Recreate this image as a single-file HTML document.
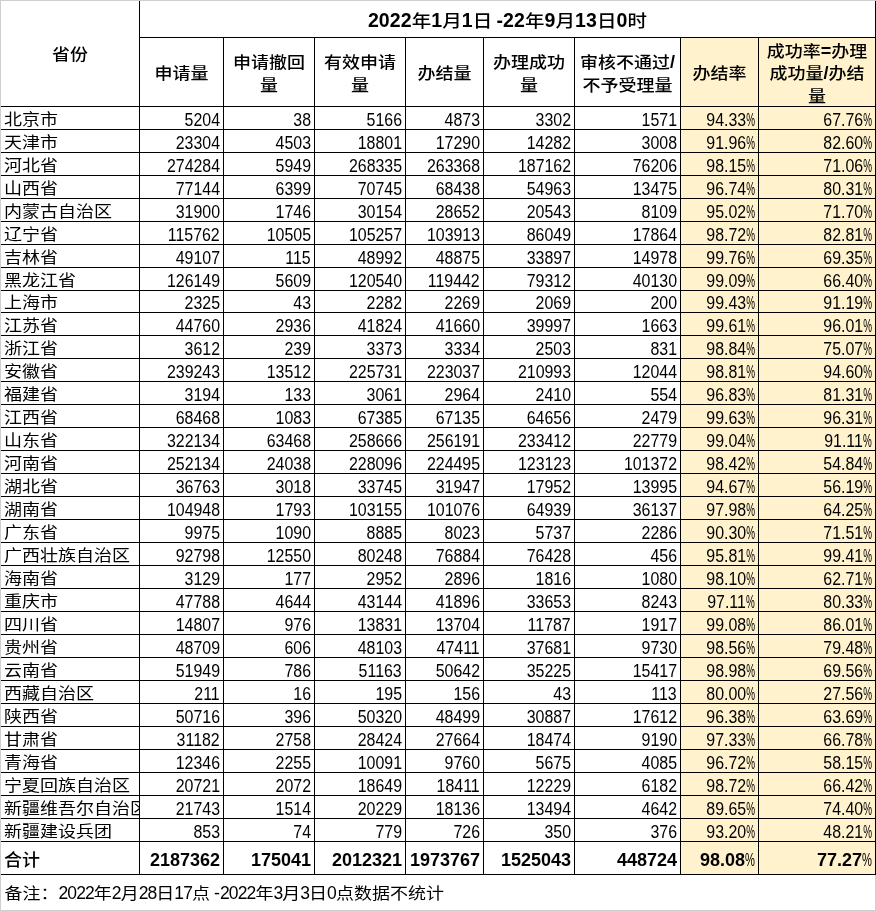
<!DOCTYPE html><html><head><meta charset="utf-8"><style>
html,body{margin:0;padding:0;}
body{width:876px;height:911px;position:relative;overflow:hidden;background:#fff;font-family:"Liberation Sans","Noto Sans CJK SC",sans-serif;}
.h,.v,.f,.g{position:absolute;}
.h{height:1px;background:#000;}
.v{width:1px;background:#000;}
.f{background:#FFF2CC;}
.g{background:#cfcfcf;}
.c{position:absolute;white-space:nowrap;overflow:hidden;color:#000;line-height:20px;}
.n{font-size:18px;letter-spacing:0px;text-align:right;}
.s{display:inline-block;transform:scaleX(0.885);transform-origin:100% 50%;}
.pc{display:inline-block;transform:scaleX(0.62);transform-origin:0 50%;margin-right:-6.1px;letter-spacing:0;font-weight:normal;}
.t{font-size:18px;text-align:left;}
.k{display:inline-block;transform:scaleY(0.86);transform-origin:50% 70%;}
.kb{display:inline-block;font-weight:500;transform:scaleY(0.88);transform-origin:50% 70%;}
.kt{transform:scaleY(0.95);}
.b{font-weight:bold;font-size:18px;letter-spacing:0px;text-align:right;}
.hd{font-weight:bold;font-size:18px;text-align:center;line-height:22.5px;}
.ti{font-weight:bold;font-size:19.5px;letter-spacing:0.1px;text-align:center;}
.nt{font-size:18px;text-align:left;}
.d{font-size:17.5px;letter-spacing:-0.9px;}
.dash{margin-left:4px;}
</style></head><body>
<div class="g" style="left:0;top:0;width:876px;height:1px"></div>
<div class="g" style="left:0;top:0;width:1px;height:911px"></div>
<div class="g" style="left:0;top:910px;width:876px;height:1px"></div>
<div class="g" style="left:875px;top:875px;width:1px;height:36px"></div>
<div class="f" style="left:681px;top:38px;width:77px;height:836px"></div>
<div class="f" style="left:759px;top:38px;width:116px;height:836px"></div>
<div class="h" style="left:139px;top:37px;width:737px"></div>
<div class="h" style="left:1px;top:106px;width:875px"></div>
<div class="h" style="left:1px;top:129px;width:875px"></div>
<div class="h" style="left:1px;top:152px;width:875px"></div>
<div class="h" style="left:1px;top:175px;width:875px"></div>
<div class="h" style="left:1px;top:198px;width:875px"></div>
<div class="h" style="left:1px;top:221px;width:875px"></div>
<div class="h" style="left:1px;top:244px;width:875px"></div>
<div class="h" style="left:1px;top:267px;width:875px"></div>
<div class="h" style="left:1px;top:290px;width:875px"></div>
<div class="h" style="left:1px;top:312px;width:875px"></div>
<div class="h" style="left:1px;top:335px;width:875px"></div>
<div class="h" style="left:1px;top:358px;width:875px"></div>
<div class="h" style="left:1px;top:381px;width:875px"></div>
<div class="h" style="left:1px;top:404px;width:875px"></div>
<div class="h" style="left:1px;top:427px;width:875px"></div>
<div class="h" style="left:1px;top:450px;width:875px"></div>
<div class="h" style="left:1px;top:473px;width:875px"></div>
<div class="h" style="left:1px;top:496px;width:875px"></div>
<div class="h" style="left:1px;top:519px;width:875px"></div>
<div class="h" style="left:1px;top:542px;width:875px"></div>
<div class="h" style="left:1px;top:565px;width:875px"></div>
<div class="h" style="left:1px;top:588px;width:875px"></div>
<div class="h" style="left:1px;top:611px;width:875px"></div>
<div class="h" style="left:1px;top:634px;width:875px"></div>
<div class="h" style="left:1px;top:657px;width:875px"></div>
<div class="h" style="left:1px;top:680px;width:875px"></div>
<div class="h" style="left:1px;top:703px;width:875px"></div>
<div class="h" style="left:1px;top:726px;width:875px"></div>
<div class="h" style="left:1px;top:749px;width:875px"></div>
<div class="h" style="left:1px;top:772px;width:875px"></div>
<div class="h" style="left:1px;top:795px;width:875px"></div>
<div class="h" style="left:1px;top:818px;width:875px"></div>
<div class="h" style="left:1px;top:841px;width:875px"></div>
<div class="h" style="left:1px;top:874px;width:875px"></div>
<div class="v" style="left:139px;top:1px;height:873px"></div>
<div class="v" style="left:223px;top:37px;height:837px"></div>
<div class="v" style="left:314px;top:37px;height:837px"></div>
<div class="v" style="left:405px;top:37px;height:837px"></div>
<div class="v" style="left:483px;top:37px;height:837px"></div>
<div class="v" style="left:574px;top:37px;height:837px"></div>
<div class="v" style="left:680px;top:37px;height:837px"></div>
<div class="v" style="left:758px;top:37px;height:837px"></div>
<div class="v" style="left:875px;top:1px;height:873px"></div>
<div class="c ti" style="left:140px;width:735px;top:10px;">2022<span class="kb">年</span>1<span class="kb">月</span>1<span class="kb">日</span><span class="dash">-</span>22<span class="kb">年</span>9<span class="kb">月</span>13<span class="kb">日</span>0<span class="kb">时</span></div>
<div class="c hd" style="left:1px;width:138px;top:43px;"><span class="kb">省份</span></div>
<div class="c hd" style="left:140px;width:83px;top:62.25px;"><span class="kb">申请量</span></div>
<div class="c hd" style="left:224px;width:90px;top:51.0px;"><span class="kb">申请撤回</span><br><span class="kb">量</span></div>
<div class="c hd" style="left:315px;width:90px;top:51.0px;"><span class="kb">有效申请</span><br><span class="kb">量</span></div>
<div class="c hd" style="left:406px;width:77px;top:62.25px;"><span class="kb">办结量</span></div>
<div class="c hd" style="left:484px;width:90px;top:51.0px;"><span class="kb">办理成功</span><br><span class="kb">量</span></div>
<div class="c hd" style="left:575px;width:105px;top:51.0px;"><span class="kb">审核不通过</span>/<br><span class="kb">不予受理量</span></div>
<div class="c hd" style="left:681px;width:77px;top:62.25px;"><span class="kb">办结率</span></div>
<div class="c hd" style="left:759px;width:116px;top:39.75px;"><span class="kb">成功率</span>=<span class="kb">办理</span><br><span class="kb">成功量</span>/<span class="kb">办结</span><br><span class="kb">量</span></div>
<div class="c t" style="left:4px;width:135px;top:109px;"><span class="k">北京市</span></div>
<div class="c n" style="left:140px;width:80px;top:110px;"><span class="s">5204</span></div>
<div class="c n" style="left:224px;width:87px;top:110px;"><span class="s">38</span></div>
<div class="c n" style="left:315px;width:87px;top:110px;"><span class="s">5166</span></div>
<div class="c n" style="left:406px;width:74px;top:110px;"><span class="s">4873</span></div>
<div class="c n" style="left:484px;width:87px;top:110px;"><span class="s">3302</span></div>
<div class="c n" style="left:575px;width:102px;top:110px;"><span class="s">1571</span></div>
<div class="c n" style="left:681px;width:74px;top:110px;"><span class="s">94.33<span class="pc">%</span></span></div>
<div class="c n" style="left:759px;width:113px;top:110px;"><span class="s">67.76<span class="pc">%</span></span></div>
<div class="c t" style="left:4px;width:135px;top:132px;"><span class="k">天津市</span></div>
<div class="c n" style="left:140px;width:80px;top:133px;"><span class="s">23304</span></div>
<div class="c n" style="left:224px;width:87px;top:133px;"><span class="s">4503</span></div>
<div class="c n" style="left:315px;width:87px;top:133px;"><span class="s">18801</span></div>
<div class="c n" style="left:406px;width:74px;top:133px;"><span class="s">17290</span></div>
<div class="c n" style="left:484px;width:87px;top:133px;"><span class="s">14282</span></div>
<div class="c n" style="left:575px;width:102px;top:133px;"><span class="s">3008</span></div>
<div class="c n" style="left:681px;width:74px;top:133px;"><span class="s">91.96<span class="pc">%</span></span></div>
<div class="c n" style="left:759px;width:113px;top:133px;"><span class="s">82.60<span class="pc">%</span></span></div>
<div class="c t" style="left:4px;width:135px;top:155px;"><span class="k">河北省</span></div>
<div class="c n" style="left:140px;width:80px;top:156px;"><span class="s">274284</span></div>
<div class="c n" style="left:224px;width:87px;top:156px;"><span class="s">5949</span></div>
<div class="c n" style="left:315px;width:87px;top:156px;"><span class="s">268335</span></div>
<div class="c n" style="left:406px;width:74px;top:156px;"><span class="s">263368</span></div>
<div class="c n" style="left:484px;width:87px;top:156px;"><span class="s">187162</span></div>
<div class="c n" style="left:575px;width:102px;top:156px;"><span class="s">76206</span></div>
<div class="c n" style="left:681px;width:74px;top:156px;"><span class="s">98.15<span class="pc">%</span></span></div>
<div class="c n" style="left:759px;width:113px;top:156px;"><span class="s">71.06<span class="pc">%</span></span></div>
<div class="c t" style="left:4px;width:135px;top:178px;"><span class="k">山西省</span></div>
<div class="c n" style="left:140px;width:80px;top:179px;"><span class="s">77144</span></div>
<div class="c n" style="left:224px;width:87px;top:179px;"><span class="s">6399</span></div>
<div class="c n" style="left:315px;width:87px;top:179px;"><span class="s">70745</span></div>
<div class="c n" style="left:406px;width:74px;top:179px;"><span class="s">68438</span></div>
<div class="c n" style="left:484px;width:87px;top:179px;"><span class="s">54963</span></div>
<div class="c n" style="left:575px;width:102px;top:179px;"><span class="s">13475</span></div>
<div class="c n" style="left:681px;width:74px;top:179px;"><span class="s">96.74<span class="pc">%</span></span></div>
<div class="c n" style="left:759px;width:113px;top:179px;"><span class="s">80.31<span class="pc">%</span></span></div>
<div class="c t" style="left:4px;width:135px;top:201px;"><span class="k">内蒙古自治区</span></div>
<div class="c n" style="left:140px;width:80px;top:202px;"><span class="s">31900</span></div>
<div class="c n" style="left:224px;width:87px;top:202px;"><span class="s">1746</span></div>
<div class="c n" style="left:315px;width:87px;top:202px;"><span class="s">30154</span></div>
<div class="c n" style="left:406px;width:74px;top:202px;"><span class="s">28652</span></div>
<div class="c n" style="left:484px;width:87px;top:202px;"><span class="s">20543</span></div>
<div class="c n" style="left:575px;width:102px;top:202px;"><span class="s">8109</span></div>
<div class="c n" style="left:681px;width:74px;top:202px;"><span class="s">95.02<span class="pc">%</span></span></div>
<div class="c n" style="left:759px;width:113px;top:202px;"><span class="s">71.70<span class="pc">%</span></span></div>
<div class="c t" style="left:4px;width:135px;top:224px;"><span class="k">辽宁省</span></div>
<div class="c n" style="left:140px;width:80px;top:225px;"><span class="s">115762</span></div>
<div class="c n" style="left:224px;width:87px;top:225px;"><span class="s">10505</span></div>
<div class="c n" style="left:315px;width:87px;top:225px;"><span class="s">105257</span></div>
<div class="c n" style="left:406px;width:74px;top:225px;"><span class="s">103913</span></div>
<div class="c n" style="left:484px;width:87px;top:225px;"><span class="s">86049</span></div>
<div class="c n" style="left:575px;width:102px;top:225px;"><span class="s">17864</span></div>
<div class="c n" style="left:681px;width:74px;top:225px;"><span class="s">98.72<span class="pc">%</span></span></div>
<div class="c n" style="left:759px;width:113px;top:225px;"><span class="s">82.81<span class="pc">%</span></span></div>
<div class="c t" style="left:4px;width:135px;top:247px;"><span class="k">吉林省</span></div>
<div class="c n" style="left:140px;width:80px;top:248px;"><span class="s">49107</span></div>
<div class="c n" style="left:224px;width:87px;top:248px;"><span class="s">115</span></div>
<div class="c n" style="left:315px;width:87px;top:248px;"><span class="s">48992</span></div>
<div class="c n" style="left:406px;width:74px;top:248px;"><span class="s">48875</span></div>
<div class="c n" style="left:484px;width:87px;top:248px;"><span class="s">33897</span></div>
<div class="c n" style="left:575px;width:102px;top:248px;"><span class="s">14978</span></div>
<div class="c n" style="left:681px;width:74px;top:248px;"><span class="s">99.76<span class="pc">%</span></span></div>
<div class="c n" style="left:759px;width:113px;top:248px;"><span class="s">69.35<span class="pc">%</span></span></div>
<div class="c t" style="left:4px;width:135px;top:270px;"><span class="k">黑龙江省</span></div>
<div class="c n" style="left:140px;width:80px;top:271px;"><span class="s">126149</span></div>
<div class="c n" style="left:224px;width:87px;top:271px;"><span class="s">5609</span></div>
<div class="c n" style="left:315px;width:87px;top:271px;"><span class="s">120540</span></div>
<div class="c n" style="left:406px;width:74px;top:271px;"><span class="s">119442</span></div>
<div class="c n" style="left:484px;width:87px;top:271px;"><span class="s">79312</span></div>
<div class="c n" style="left:575px;width:102px;top:271px;"><span class="s">40130</span></div>
<div class="c n" style="left:681px;width:74px;top:271px;"><span class="s">99.09<span class="pc">%</span></span></div>
<div class="c n" style="left:759px;width:113px;top:271px;"><span class="s">66.40<span class="pc">%</span></span></div>
<div class="c t" style="left:4px;width:135px;top:292px;"><span class="k">上海市</span></div>
<div class="c n" style="left:140px;width:80px;top:293px;"><span class="s">2325</span></div>
<div class="c n" style="left:224px;width:87px;top:293px;"><span class="s">43</span></div>
<div class="c n" style="left:315px;width:87px;top:293px;"><span class="s">2282</span></div>
<div class="c n" style="left:406px;width:74px;top:293px;"><span class="s">2269</span></div>
<div class="c n" style="left:484px;width:87px;top:293px;"><span class="s">2069</span></div>
<div class="c n" style="left:575px;width:102px;top:293px;"><span class="s">200</span></div>
<div class="c n" style="left:681px;width:74px;top:293px;"><span class="s">99.43<span class="pc">%</span></span></div>
<div class="c n" style="left:759px;width:113px;top:293px;"><span class="s">91.19<span class="pc">%</span></span></div>
<div class="c t" style="left:4px;width:135px;top:315px;"><span class="k">江苏省</span></div>
<div class="c n" style="left:140px;width:80px;top:316px;"><span class="s">44760</span></div>
<div class="c n" style="left:224px;width:87px;top:316px;"><span class="s">2936</span></div>
<div class="c n" style="left:315px;width:87px;top:316px;"><span class="s">41824</span></div>
<div class="c n" style="left:406px;width:74px;top:316px;"><span class="s">41660</span></div>
<div class="c n" style="left:484px;width:87px;top:316px;"><span class="s">39997</span></div>
<div class="c n" style="left:575px;width:102px;top:316px;"><span class="s">1663</span></div>
<div class="c n" style="left:681px;width:74px;top:316px;"><span class="s">99.61<span class="pc">%</span></span></div>
<div class="c n" style="left:759px;width:113px;top:316px;"><span class="s">96.01<span class="pc">%</span></span></div>
<div class="c t" style="left:4px;width:135px;top:338px;"><span class="k">浙江省</span></div>
<div class="c n" style="left:140px;width:80px;top:339px;"><span class="s">3612</span></div>
<div class="c n" style="left:224px;width:87px;top:339px;"><span class="s">239</span></div>
<div class="c n" style="left:315px;width:87px;top:339px;"><span class="s">3373</span></div>
<div class="c n" style="left:406px;width:74px;top:339px;"><span class="s">3334</span></div>
<div class="c n" style="left:484px;width:87px;top:339px;"><span class="s">2503</span></div>
<div class="c n" style="left:575px;width:102px;top:339px;"><span class="s">831</span></div>
<div class="c n" style="left:681px;width:74px;top:339px;"><span class="s">98.84<span class="pc">%</span></span></div>
<div class="c n" style="left:759px;width:113px;top:339px;"><span class="s">75.07<span class="pc">%</span></span></div>
<div class="c t" style="left:4px;width:135px;top:361px;"><span class="k">安徽省</span></div>
<div class="c n" style="left:140px;width:80px;top:362px;"><span class="s">239243</span></div>
<div class="c n" style="left:224px;width:87px;top:362px;"><span class="s">13512</span></div>
<div class="c n" style="left:315px;width:87px;top:362px;"><span class="s">225731</span></div>
<div class="c n" style="left:406px;width:74px;top:362px;"><span class="s">223037</span></div>
<div class="c n" style="left:484px;width:87px;top:362px;"><span class="s">210993</span></div>
<div class="c n" style="left:575px;width:102px;top:362px;"><span class="s">12044</span></div>
<div class="c n" style="left:681px;width:74px;top:362px;"><span class="s">98.81<span class="pc">%</span></span></div>
<div class="c n" style="left:759px;width:113px;top:362px;"><span class="s">94.60<span class="pc">%</span></span></div>
<div class="c t" style="left:4px;width:135px;top:384px;"><span class="k">福建省</span></div>
<div class="c n" style="left:140px;width:80px;top:385px;"><span class="s">3194</span></div>
<div class="c n" style="left:224px;width:87px;top:385px;"><span class="s">133</span></div>
<div class="c n" style="left:315px;width:87px;top:385px;"><span class="s">3061</span></div>
<div class="c n" style="left:406px;width:74px;top:385px;"><span class="s">2964</span></div>
<div class="c n" style="left:484px;width:87px;top:385px;"><span class="s">2410</span></div>
<div class="c n" style="left:575px;width:102px;top:385px;"><span class="s">554</span></div>
<div class="c n" style="left:681px;width:74px;top:385px;"><span class="s">96.83<span class="pc">%</span></span></div>
<div class="c n" style="left:759px;width:113px;top:385px;"><span class="s">81.31<span class="pc">%</span></span></div>
<div class="c t" style="left:4px;width:135px;top:407px;"><span class="k">江西省</span></div>
<div class="c n" style="left:140px;width:80px;top:408px;"><span class="s">68468</span></div>
<div class="c n" style="left:224px;width:87px;top:408px;"><span class="s">1083</span></div>
<div class="c n" style="left:315px;width:87px;top:408px;"><span class="s">67385</span></div>
<div class="c n" style="left:406px;width:74px;top:408px;"><span class="s">67135</span></div>
<div class="c n" style="left:484px;width:87px;top:408px;"><span class="s">64656</span></div>
<div class="c n" style="left:575px;width:102px;top:408px;"><span class="s">2479</span></div>
<div class="c n" style="left:681px;width:74px;top:408px;"><span class="s">99.63<span class="pc">%</span></span></div>
<div class="c n" style="left:759px;width:113px;top:408px;"><span class="s">96.31<span class="pc">%</span></span></div>
<div class="c t" style="left:4px;width:135px;top:430px;"><span class="k">山东省</span></div>
<div class="c n" style="left:140px;width:80px;top:431px;"><span class="s">322134</span></div>
<div class="c n" style="left:224px;width:87px;top:431px;"><span class="s">63468</span></div>
<div class="c n" style="left:315px;width:87px;top:431px;"><span class="s">258666</span></div>
<div class="c n" style="left:406px;width:74px;top:431px;"><span class="s">256191</span></div>
<div class="c n" style="left:484px;width:87px;top:431px;"><span class="s">233412</span></div>
<div class="c n" style="left:575px;width:102px;top:431px;"><span class="s">22779</span></div>
<div class="c n" style="left:681px;width:74px;top:431px;"><span class="s">99.04<span class="pc">%</span></span></div>
<div class="c n" style="left:759px;width:113px;top:431px;"><span class="s">91.11<span class="pc">%</span></span></div>
<div class="c t" style="left:4px;width:135px;top:453px;"><span class="k">河南省</span></div>
<div class="c n" style="left:140px;width:80px;top:454px;"><span class="s">252134</span></div>
<div class="c n" style="left:224px;width:87px;top:454px;"><span class="s">24038</span></div>
<div class="c n" style="left:315px;width:87px;top:454px;"><span class="s">228096</span></div>
<div class="c n" style="left:406px;width:74px;top:454px;"><span class="s">224495</span></div>
<div class="c n" style="left:484px;width:87px;top:454px;"><span class="s">123123</span></div>
<div class="c n" style="left:575px;width:102px;top:454px;"><span class="s">101372</span></div>
<div class="c n" style="left:681px;width:74px;top:454px;"><span class="s">98.42<span class="pc">%</span></span></div>
<div class="c n" style="left:759px;width:113px;top:454px;"><span class="s">54.84<span class="pc">%</span></span></div>
<div class="c t" style="left:4px;width:135px;top:476px;"><span class="k">湖北省</span></div>
<div class="c n" style="left:140px;width:80px;top:477px;"><span class="s">36763</span></div>
<div class="c n" style="left:224px;width:87px;top:477px;"><span class="s">3018</span></div>
<div class="c n" style="left:315px;width:87px;top:477px;"><span class="s">33745</span></div>
<div class="c n" style="left:406px;width:74px;top:477px;"><span class="s">31947</span></div>
<div class="c n" style="left:484px;width:87px;top:477px;"><span class="s">17952</span></div>
<div class="c n" style="left:575px;width:102px;top:477px;"><span class="s">13995</span></div>
<div class="c n" style="left:681px;width:74px;top:477px;"><span class="s">94.67<span class="pc">%</span></span></div>
<div class="c n" style="left:759px;width:113px;top:477px;"><span class="s">56.19<span class="pc">%</span></span></div>
<div class="c t" style="left:4px;width:135px;top:499px;"><span class="k">湖南省</span></div>
<div class="c n" style="left:140px;width:80px;top:500px;"><span class="s">104948</span></div>
<div class="c n" style="left:224px;width:87px;top:500px;"><span class="s">1793</span></div>
<div class="c n" style="left:315px;width:87px;top:500px;"><span class="s">103155</span></div>
<div class="c n" style="left:406px;width:74px;top:500px;"><span class="s">101076</span></div>
<div class="c n" style="left:484px;width:87px;top:500px;"><span class="s">64939</span></div>
<div class="c n" style="left:575px;width:102px;top:500px;"><span class="s">36137</span></div>
<div class="c n" style="left:681px;width:74px;top:500px;"><span class="s">97.98<span class="pc">%</span></span></div>
<div class="c n" style="left:759px;width:113px;top:500px;"><span class="s">64.25<span class="pc">%</span></span></div>
<div class="c t" style="left:4px;width:135px;top:522px;"><span class="k">广东省</span></div>
<div class="c n" style="left:140px;width:80px;top:523px;"><span class="s">9975</span></div>
<div class="c n" style="left:224px;width:87px;top:523px;"><span class="s">1090</span></div>
<div class="c n" style="left:315px;width:87px;top:523px;"><span class="s">8885</span></div>
<div class="c n" style="left:406px;width:74px;top:523px;"><span class="s">8023</span></div>
<div class="c n" style="left:484px;width:87px;top:523px;"><span class="s">5737</span></div>
<div class="c n" style="left:575px;width:102px;top:523px;"><span class="s">2286</span></div>
<div class="c n" style="left:681px;width:74px;top:523px;"><span class="s">90.30<span class="pc">%</span></span></div>
<div class="c n" style="left:759px;width:113px;top:523px;"><span class="s">71.51<span class="pc">%</span></span></div>
<div class="c t" style="left:4px;width:135px;top:545px;"><span class="k">广西壮族自治区</span></div>
<div class="c n" style="left:140px;width:80px;top:546px;"><span class="s">92798</span></div>
<div class="c n" style="left:224px;width:87px;top:546px;"><span class="s">12550</span></div>
<div class="c n" style="left:315px;width:87px;top:546px;"><span class="s">80248</span></div>
<div class="c n" style="left:406px;width:74px;top:546px;"><span class="s">76884</span></div>
<div class="c n" style="left:484px;width:87px;top:546px;"><span class="s">76428</span></div>
<div class="c n" style="left:575px;width:102px;top:546px;"><span class="s">456</span></div>
<div class="c n" style="left:681px;width:74px;top:546px;"><span class="s">95.81<span class="pc">%</span></span></div>
<div class="c n" style="left:759px;width:113px;top:546px;"><span class="s">99.41<span class="pc">%</span></span></div>
<div class="c t" style="left:4px;width:135px;top:568px;"><span class="k">海南省</span></div>
<div class="c n" style="left:140px;width:80px;top:569px;"><span class="s">3129</span></div>
<div class="c n" style="left:224px;width:87px;top:569px;"><span class="s">177</span></div>
<div class="c n" style="left:315px;width:87px;top:569px;"><span class="s">2952</span></div>
<div class="c n" style="left:406px;width:74px;top:569px;"><span class="s">2896</span></div>
<div class="c n" style="left:484px;width:87px;top:569px;"><span class="s">1816</span></div>
<div class="c n" style="left:575px;width:102px;top:569px;"><span class="s">1080</span></div>
<div class="c n" style="left:681px;width:74px;top:569px;"><span class="s">98.10<span class="pc">%</span></span></div>
<div class="c n" style="left:759px;width:113px;top:569px;"><span class="s">62.71<span class="pc">%</span></span></div>
<div class="c t" style="left:4px;width:135px;top:591px;"><span class="k">重庆市</span></div>
<div class="c n" style="left:140px;width:80px;top:592px;"><span class="s">47788</span></div>
<div class="c n" style="left:224px;width:87px;top:592px;"><span class="s">4644</span></div>
<div class="c n" style="left:315px;width:87px;top:592px;"><span class="s">43144</span></div>
<div class="c n" style="left:406px;width:74px;top:592px;"><span class="s">41896</span></div>
<div class="c n" style="left:484px;width:87px;top:592px;"><span class="s">33653</span></div>
<div class="c n" style="left:575px;width:102px;top:592px;"><span class="s">8243</span></div>
<div class="c n" style="left:681px;width:74px;top:592px;"><span class="s">97.11<span class="pc">%</span></span></div>
<div class="c n" style="left:759px;width:113px;top:592px;"><span class="s">80.33<span class="pc">%</span></span></div>
<div class="c t" style="left:4px;width:135px;top:614px;"><span class="k">四川省</span></div>
<div class="c n" style="left:140px;width:80px;top:615px;"><span class="s">14807</span></div>
<div class="c n" style="left:224px;width:87px;top:615px;"><span class="s">976</span></div>
<div class="c n" style="left:315px;width:87px;top:615px;"><span class="s">13831</span></div>
<div class="c n" style="left:406px;width:74px;top:615px;"><span class="s">13704</span></div>
<div class="c n" style="left:484px;width:87px;top:615px;"><span class="s">11787</span></div>
<div class="c n" style="left:575px;width:102px;top:615px;"><span class="s">1917</span></div>
<div class="c n" style="left:681px;width:74px;top:615px;"><span class="s">99.08<span class="pc">%</span></span></div>
<div class="c n" style="left:759px;width:113px;top:615px;"><span class="s">86.01<span class="pc">%</span></span></div>
<div class="c t" style="left:4px;width:135px;top:637px;"><span class="k">贵州省</span></div>
<div class="c n" style="left:140px;width:80px;top:638px;"><span class="s">48709</span></div>
<div class="c n" style="left:224px;width:87px;top:638px;"><span class="s">606</span></div>
<div class="c n" style="left:315px;width:87px;top:638px;"><span class="s">48103</span></div>
<div class="c n" style="left:406px;width:74px;top:638px;"><span class="s">47411</span></div>
<div class="c n" style="left:484px;width:87px;top:638px;"><span class="s">37681</span></div>
<div class="c n" style="left:575px;width:102px;top:638px;"><span class="s">9730</span></div>
<div class="c n" style="left:681px;width:74px;top:638px;"><span class="s">98.56<span class="pc">%</span></span></div>
<div class="c n" style="left:759px;width:113px;top:638px;"><span class="s">79.48<span class="pc">%</span></span></div>
<div class="c t" style="left:4px;width:135px;top:660px;"><span class="k">云南省</span></div>
<div class="c n" style="left:140px;width:80px;top:661px;"><span class="s">51949</span></div>
<div class="c n" style="left:224px;width:87px;top:661px;"><span class="s">786</span></div>
<div class="c n" style="left:315px;width:87px;top:661px;"><span class="s">51163</span></div>
<div class="c n" style="left:406px;width:74px;top:661px;"><span class="s">50642</span></div>
<div class="c n" style="left:484px;width:87px;top:661px;"><span class="s">35225</span></div>
<div class="c n" style="left:575px;width:102px;top:661px;"><span class="s">15417</span></div>
<div class="c n" style="left:681px;width:74px;top:661px;"><span class="s">98.98<span class="pc">%</span></span></div>
<div class="c n" style="left:759px;width:113px;top:661px;"><span class="s">69.56<span class="pc">%</span></span></div>
<div class="c t" style="left:4px;width:135px;top:683px;"><span class="k">西藏自治区</span></div>
<div class="c n" style="left:140px;width:80px;top:684px;"><span class="s">211</span></div>
<div class="c n" style="left:224px;width:87px;top:684px;"><span class="s">16</span></div>
<div class="c n" style="left:315px;width:87px;top:684px;"><span class="s">195</span></div>
<div class="c n" style="left:406px;width:74px;top:684px;"><span class="s">156</span></div>
<div class="c n" style="left:484px;width:87px;top:684px;"><span class="s">43</span></div>
<div class="c n" style="left:575px;width:102px;top:684px;"><span class="s">113</span></div>
<div class="c n" style="left:681px;width:74px;top:684px;"><span class="s">80.00<span class="pc">%</span></span></div>
<div class="c n" style="left:759px;width:113px;top:684px;"><span class="s">27.56<span class="pc">%</span></span></div>
<div class="c t" style="left:4px;width:135px;top:706px;"><span class="k">陕西省</span></div>
<div class="c n" style="left:140px;width:80px;top:707px;"><span class="s">50716</span></div>
<div class="c n" style="left:224px;width:87px;top:707px;"><span class="s">396</span></div>
<div class="c n" style="left:315px;width:87px;top:707px;"><span class="s">50320</span></div>
<div class="c n" style="left:406px;width:74px;top:707px;"><span class="s">48499</span></div>
<div class="c n" style="left:484px;width:87px;top:707px;"><span class="s">30887</span></div>
<div class="c n" style="left:575px;width:102px;top:707px;"><span class="s">17612</span></div>
<div class="c n" style="left:681px;width:74px;top:707px;"><span class="s">96.38<span class="pc">%</span></span></div>
<div class="c n" style="left:759px;width:113px;top:707px;"><span class="s">63.69<span class="pc">%</span></span></div>
<div class="c t" style="left:4px;width:135px;top:729px;"><span class="k">甘肃省</span></div>
<div class="c n" style="left:140px;width:80px;top:730px;"><span class="s">31182</span></div>
<div class="c n" style="left:224px;width:87px;top:730px;"><span class="s">2758</span></div>
<div class="c n" style="left:315px;width:87px;top:730px;"><span class="s">28424</span></div>
<div class="c n" style="left:406px;width:74px;top:730px;"><span class="s">27664</span></div>
<div class="c n" style="left:484px;width:87px;top:730px;"><span class="s">18474</span></div>
<div class="c n" style="left:575px;width:102px;top:730px;"><span class="s">9190</span></div>
<div class="c n" style="left:681px;width:74px;top:730px;"><span class="s">97.33<span class="pc">%</span></span></div>
<div class="c n" style="left:759px;width:113px;top:730px;"><span class="s">66.78<span class="pc">%</span></span></div>
<div class="c t" style="left:4px;width:135px;top:752px;"><span class="k">青海省</span></div>
<div class="c n" style="left:140px;width:80px;top:753px;"><span class="s">12346</span></div>
<div class="c n" style="left:224px;width:87px;top:753px;"><span class="s">2255</span></div>
<div class="c n" style="left:315px;width:87px;top:753px;"><span class="s">10091</span></div>
<div class="c n" style="left:406px;width:74px;top:753px;"><span class="s">9760</span></div>
<div class="c n" style="left:484px;width:87px;top:753px;"><span class="s">5675</span></div>
<div class="c n" style="left:575px;width:102px;top:753px;"><span class="s">4085</span></div>
<div class="c n" style="left:681px;width:74px;top:753px;"><span class="s">96.72<span class="pc">%</span></span></div>
<div class="c n" style="left:759px;width:113px;top:753px;"><span class="s">58.15<span class="pc">%</span></span></div>
<div class="c t" style="left:4px;width:135px;top:775px;"><span class="k">宁夏回族自治区</span></div>
<div class="c n" style="left:140px;width:80px;top:776px;"><span class="s">20721</span></div>
<div class="c n" style="left:224px;width:87px;top:776px;"><span class="s">2072</span></div>
<div class="c n" style="left:315px;width:87px;top:776px;"><span class="s">18649</span></div>
<div class="c n" style="left:406px;width:74px;top:776px;"><span class="s">18411</span></div>
<div class="c n" style="left:484px;width:87px;top:776px;"><span class="s">12229</span></div>
<div class="c n" style="left:575px;width:102px;top:776px;"><span class="s">6182</span></div>
<div class="c n" style="left:681px;width:74px;top:776px;"><span class="s">98.72<span class="pc">%</span></span></div>
<div class="c n" style="left:759px;width:113px;top:776px;"><span class="s">66.42<span class="pc">%</span></span></div>
<div class="c t" style="left:4px;width:135px;top:798px;"><span class="k">新疆维吾尔自治区</span></div>
<div class="c n" style="left:140px;width:80px;top:799px;"><span class="s">21743</span></div>
<div class="c n" style="left:224px;width:87px;top:799px;"><span class="s">1514</span></div>
<div class="c n" style="left:315px;width:87px;top:799px;"><span class="s">20229</span></div>
<div class="c n" style="left:406px;width:74px;top:799px;"><span class="s">18136</span></div>
<div class="c n" style="left:484px;width:87px;top:799px;"><span class="s">13494</span></div>
<div class="c n" style="left:575px;width:102px;top:799px;"><span class="s">4642</span></div>
<div class="c n" style="left:681px;width:74px;top:799px;"><span class="s">89.65<span class="pc">%</span></span></div>
<div class="c n" style="left:759px;width:113px;top:799px;"><span class="s">74.40<span class="pc">%</span></span></div>
<div class="c t" style="left:4px;width:135px;top:821px;"><span class="k">新疆建设兵团</span></div>
<div class="c n" style="left:140px;width:80px;top:822px;"><span class="s">853</span></div>
<div class="c n" style="left:224px;width:87px;top:822px;"><span class="s">74</span></div>
<div class="c n" style="left:315px;width:87px;top:822px;"><span class="s">779</span></div>
<div class="c n" style="left:406px;width:74px;top:822px;"><span class="s">726</span></div>
<div class="c n" style="left:484px;width:87px;top:822px;"><span class="s">350</span></div>
<div class="c n" style="left:575px;width:102px;top:822px;"><span class="s">376</span></div>
<div class="c n" style="left:681px;width:74px;top:822px;"><span class="s">93.20<span class="pc">%</span></span></div>
<div class="c n" style="left:759px;width:113px;top:822px;"><span class="s">48.21<span class="pc">%</span></span></div>
<div class="c t" style="left:4px;width:135px;top:850px;font-weight:bold"><span class="kb kt">合计</span></div>
<div class="c b" style="left:140px;width:80px;top:850px;">2187362</div>
<div class="c b" style="left:224px;width:87px;top:850px;">175041</div>
<div class="c b" style="left:315px;width:87px;top:850px;">2012321</div>
<div class="c b" style="left:406px;width:74px;top:850px;">1973767</div>
<div class="c b" style="left:484px;width:87px;top:850px;">1525043</div>
<div class="c b" style="left:575px;width:102px;top:850px;">448724</div>
<div class="c b" style="left:681px;width:74px;top:850px;">98.08<span class="pc">%</span></div>
<div class="c b" style="left:759px;width:113px;top:850px;">77.27<span class="pc">%</span></div>
<div class="c nt" style="left:4.5px;width:860px;top:883px;"><span class="k">备注：</span><span class="d">2022</span><span class="k">年</span><span class="d">2</span><span class="k">月</span><span class="d">28</span><span class="k">日</span><span class="d">17</span><span class="k">点</span><span class="dash">-</span><span class="d">2022</span><span class="k">年</span><span class="d">3</span><span class="k">月</span><span class="d">3</span><span class="k">日</span><span class="d">0</span><span class="k">点数据不统计</span></div>
</body></html>
